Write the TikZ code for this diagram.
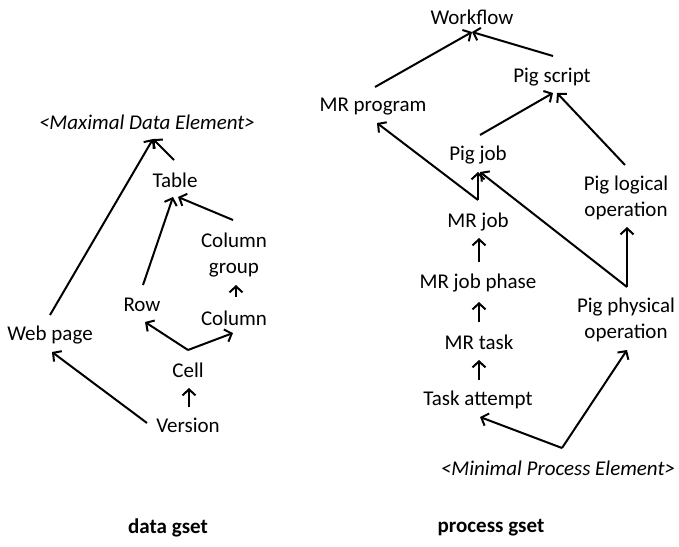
\documentclass[tikz,border=0pt]{standalone}
\usepackage{fontspec}
\setmainfont{Carlito}
\usetikzlibrary{arrows.meta}
\begin{document}
\begin{tikzpicture}[x=1pt,y=-1pt,
  lbl/.style={inner sep=0pt,font=\fontsize{21}{26.5}\selectfont,align=center},
  ttl/.style={inner sep=0pt,font=\fontsize{21}{25}\selectfont\bfseries},
  arr/.style={line width=2pt,-{Straight Barb[length=6pt,width=13pt,line width=2pt]}}]
\useasboundingbox (0,0) rectangle (679,546);
% left: data gset
\node[lbl] (maxde) at (147,122) {\itshape <Maximal Data Element>};
\node[lbl] (table) at (175,180) {Table};
\node[lbl] (colgroup) at (234,255) {Column\\group};
\node[lbl] (row) at (142,305) {Row};
\node[lbl] (column) at (234,318) {Column};
\node[lbl] (webpage) at (50,335) {Web page};
\node[lbl] (cell) at (188,370) {Cell};
\node[lbl] (version) at (188,425) {Version};
\node[ttl] (datagset) at (168,528) {data gset};
% right: process gset
\node[lbl] (workflow) at (472,17) {Workflow};
\node[lbl] (pigscript) at (552,77) {Pig script};
\node[lbl] (mrprogram) at (373,107) {MR program};
\node[lbl] (pigjob) at (478,155) {Pig job};
\node[lbl] (piglogical) at (626,198) {Pig logical\\operation};
\node[lbl] (mrjob) at (478,222) {MR job};
\node[lbl] (mrjobphase) at (478,283) {MR job phase};
\node[lbl] (pigphys) at (626,320) {Pig physical\\operation};
\node[lbl] (mrtask) at (479,342) {MR task};
\node[lbl] (taskattempt) at (478,400) {Task attempt};
\node[lbl] (minimal) at (558,468) {\itshape <Minimal Process Element>};
\node[ttl] (processgset) at (491,528) {process gset};
% left arrows
\draw[arr] ([shift={(0,-20)}]webpage.center) -- ([shift={(6,17)}]maxde.center);
\draw[arr] ([shift={(-1,-20)}]table.center) -- ([shift={(6,17)}]maxde.center);
\draw[arr] ([shift={(1,-20)}]row.center) -- ([shift={(-2,17)}]table.center);
\draw[arr] ([shift={(-1,-35)}]colgroup.center) -- ([shift={(3,17)}]table.center);
\draw[arr] ([shift={(2,-21)}]column.center) -- ([shift={(2,30)}]colgroup.center);
\draw[arr] ([shift={(0,-20)}]cell.center) -- ([shift={(3,17)}]row.center);
\draw[arr] ([shift={(0,-20)}]cell.center) -- ([shift={(-1,15)}]column.center);
\draw[arr] ([shift={(1,-18)}]version.center) -- ([shift={(1,18)}]cell.center);
\draw[arr] ([shift={(-41,-2)}]version.center) -- ([shift={(2,17)}]webpage.center);
% right arrows
\draw[arr] ([shift={(2,-20)}]mrprogram.center) -- ([shift={(0,15)}]workflow.center);
\draw[arr] ([shift={(1,-21)}]pigscript.center) -- ([shift={(0,15)}]workflow.center);
\draw[arr] ([shift={(2,-20)}]pigjob.center) -- ([shift={(1,16)}]pigscript.center);
\draw[arr] ([shift={(-1,-33)}]piglogical.center) -- ([shift={(5,16)}]pigscript.center);
\draw[arr] ([shift={(0,-22)}]mrjob.center) -- ([shift={(4,16)}]mrprogram.center);
\draw[arr] ([shift={(0,-22)}]mrjob.center) -- ([shift={(0,17)}]pigjob.center);
\draw[arr] ([shift={(1,-33)}]pigphys.center) -- ([shift={(2,17)}]pigjob.center);
\draw[arr] ([shift={(1,-33)}]pigphys.center) -- ([shift={(1,29)}]piglogical.center);
\draw[arr] ([shift={(1,-21)}]mrjobphase.center) -- ([shift={(1,16)}]mrjob.center);
\draw[arr] ([shift={(0,-20)}]mrtask.center) -- ([shift={(1,19)}]mrjobphase.center);
\draw[arr] ([shift={(1,-20)}]taskattempt.center) -- ([shift={(0,18)}]mrtask.center);
\draw[arr] ([shift={(4,-20)}]minimal.center) -- ([shift={(2,17)}]taskattempt.center);
\draw[arr] ([shift={(4,-20)}]minimal.center) -- ([shift={(1,30)}]pigphys.center);
\end{tikzpicture}
\end{document}
